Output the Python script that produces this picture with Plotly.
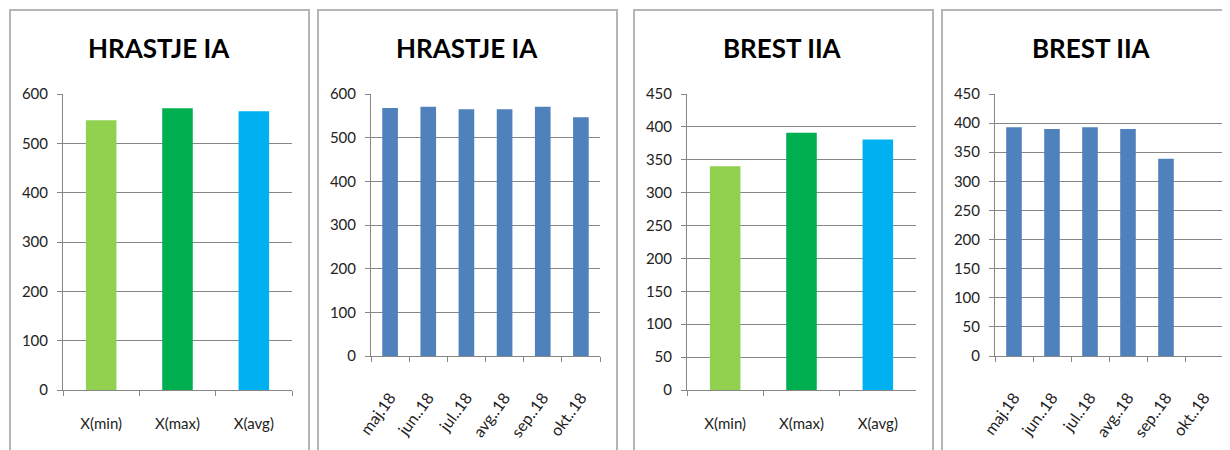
import plotly.graph_objects as go

# The page body has an 8px margin, so figure pixel coords = screen coords - 8
OFF = 8
W, H = 1230 - OFF, 450 - OFF

stat_cats = ["X(min)", "X(max)", "X(avg)"]
stat_colors = ["#92D050", "#00B050", "#00B0F0"]
month_cats = ["maj.18", "jun..18", "jul..18", "avg..18", "sep..18", "okt..18"]

hrastje_stats = [547, 571, 565]
hrastje_months = [568, 571, 565, 565, 571, 547]
brest_stats = [340, 391, 381]
brest_months = [393, 390, 393, 390, 339, None]

titles = ["HRASTJE IA", "HRASTJE IA", "BREST IIA", "BREST IIA"]

GRID = "#878787"
BORDER = "#B4B4B4"
TICKFONT = dict(family="Lato, sans-serif", size=15, color="#222222")
ROTFONT = dict(family="Lato, sans-serif", size=16, color="#222222")
TITLEFONT = dict(family="Lato, sans-serif", size=26, color="#000000")

fig = go.Figure()

fig.add_trace(go.Bar(x=stat_cats, y=hrastje_stats, marker_color=stat_colors,
                     marker_line_width=0, width=0.4, xaxis="x", yaxis="y"))
fig.add_trace(go.Bar(x=month_cats, y=hrastje_months, marker_color="#4F81BD",
                     marker_line_width=0, width=0.41, xaxis="x2", yaxis="y2"))
fig.add_trace(go.Bar(x=stat_cats, y=brest_stats, marker_color=stat_colors,
                     marker_line_width=0, width=0.4, xaxis="x3", yaxis="y3"))
fig.add_trace(go.Bar(x=month_cats, y=brest_months, marker_color="#4F81BD",
                     marker_line_width=0, width=0.41, xaxis="x4", yaxis="y4"))

def px_x(p):
    return (p - OFF) / W

def px_y(p):
    return 1 - (p - OFF) / H

# plot-area geometry (screen pixels)
plots = [
    dict(x0=63, x1=292, ytop=94, ybot=390, rng=[0, 600], dtick=100, n=3, rot=0, stand=20, f=TICKFONT),
    dict(x0=371, x1=600, ytop=94, ybot=356, rng=[0, 600], dtick=100, n=6, rot=-54, stand=25, f=ROTFONT),
    dict(x0=687, x1=916, ytop=94, ybot=390, rng=[0, 450], dtick=50, n=3, rot=0, stand=20, f=TICKFONT),
    dict(x0=995, x1=1223, ytop=94, ybot=356, rng=[0, 450], dtick=50, n=6, rot=-54, stand=25, f=ROTFONT),
]

layout = dict(
    width=W, height=H, margin=dict(l=0, r=0, t=0, b=0, autoexpand=False),
    paper_bgcolor="white", plot_bgcolor="white", showlegend=False,
    bargap=0.6,
)
for i, p in enumerate(plots):
    sfx = "" if i == 0 else str(i + 1)
    layout["xaxis" + sfx] = dict(
        domain=[px_x(p["x0"]), px_x(p["x1"])], anchor="y" + sfx,
        range=[-0.5, p["n"] - 0.5], showline=True, linecolor=GRID, linewidth=1,
        ticks="outside", tickson="boundaries", ticklen=5, tickcolor=GRID,
        tickangle=p["rot"], tickfont=p["f"], ticklabelstandoff=p["stand"],
        showgrid=False, fixedrange=True, automargin=False,
    )
    layout["yaxis" + sfx] = dict(
        domain=[px_y(p["ybot"]), px_y(p["ytop"])], anchor="x" + sfx,
        range=p["rng"], dtick=p["dtick"], showgrid=True, gridcolor=GRID, gridwidth=1,
        showline=True, linecolor=GRID, linewidth=1, ticks="outside", ticklen=5,
        tickcolor=GRID, tickfont=TICKFONT, ticklabelstandoff=6, zeroline=False,
        fixedrange=True, automargin=False,
    )
fig.update_layout(**layout)

# panel borders (screen pixels)
panels = [(10, 309), (318, 617), (634, 933), (942, 1245)]
for (a, b) in panels:
    fig.add_shape(type="rect", xref="paper", yref="paper",
                  x0=px_x(a), x1=px_x(b), y0=px_y(470), y1=px_y(10),
                  line=dict(color=BORDER, width=2), fillcolor="rgba(0,0,0,0)", layer="below")

title_cx = [159, 467, 783, 1091]
for t, cx in zip(titles, title_cx):
    fig.add_annotation(text="<b>" + t + "</b>", x=px_x(cx), y=px_y(48), xref="paper", yref="paper",
                       showarrow=False, font=TITLEFONT, xanchor="center", yanchor="middle")

fig.write_html("out.html")
